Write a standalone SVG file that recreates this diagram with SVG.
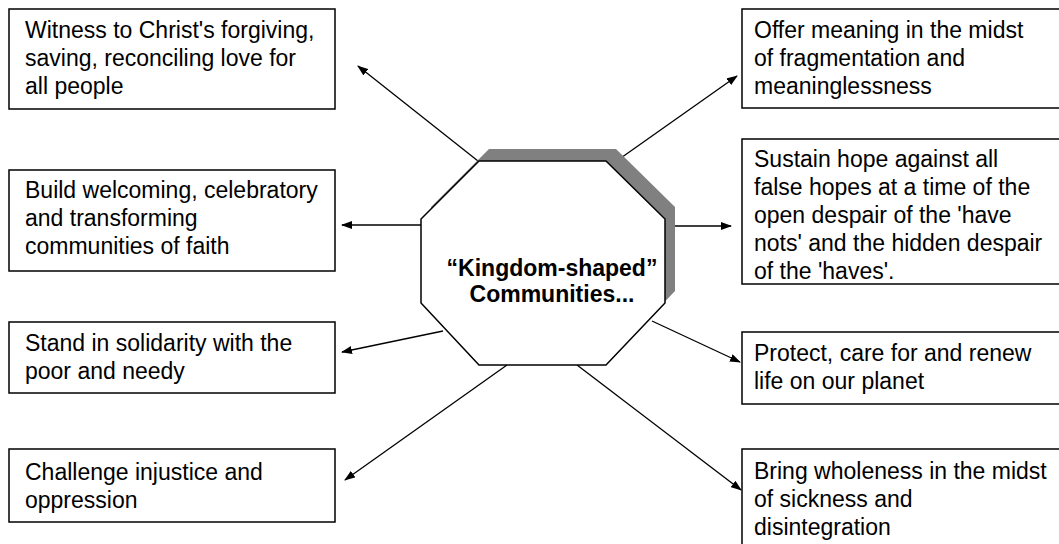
<svg xmlns="http://www.w3.org/2000/svg" width="1059" height="544" viewBox="0 0 1059 544">
<style>
.box{fill:#fff;stroke:#000;stroke-width:1.5}
.t{font-family:"Liberation Sans",Arial,sans-serif;font-size:23px;fill:#000}
.c{font-family:"Liberation Sans",Arial,sans-serif;font-size:23px;font-weight:bold;fill:#000;text-anchor:middle}
.ln{fill:none;stroke:#000;stroke-width:1.3;marker-end:url(#ah)}
</style>
<defs>
<marker id="ah" markerUnits="userSpaceOnUse" markerWidth="11" markerHeight="8" refX="10" refY="4" orient="auto">
<path d="M0,0 L11,4 L0,8 Z" fill="#000"/>
</marker>
</defs>
<rect width="1059" height="544" fill="#fff"/>
<g id="connectors">
<line class="ln" x1="478" y1="161" x2="358" y2="66"/>
<line class="ln" x1="421" y1="225" x2="342" y2="225"/>
<line class="ln" x1="443" y1="331" x2="342" y2="352"/>
<line class="ln" x1="507" y1="365" x2="345" y2="480"/>
<line class="ln" x1="618" y1="160" x2="737" y2="76"/>
<line class="ln" x1="675" y1="226" x2="731" y2="226"/>
<line class="ln" x1="652" y1="321" x2="740" y2="362"/>
<line class="ln" x1="577" y1="365" x2="741" y2="490"/>
</g>
<g id="center">
<polygon points="479,161 606,161 665,219 665,303 606,365 479,365 421,303 421,219" transform="translate(10,-12)" fill="#808080"/>
<polygon points="479,161 606,161 665,219 665,303 606,365 479,365 421,303 421,219" fill="#fff" stroke="#000" stroke-width="1.5"/>
<text class="c" x="552" y="276">“Kingdom-shaped”</text>
<text class="c" x="552" y="302">Communities...</text>
</g>
<g id="witness">
<rect class="box" x="9" y="9" width="326" height="100"/>
<text class="t" x="25" y="38">Witness to Christ's forgiving,</text>
<text class="t" x="25" y="66">saving, reconciling love for</text>
<text class="t" x="25" y="94">all people</text>
</g>
<g id="build">
<rect class="box" x="9" y="170" width="326" height="101"/>
<text class="t" x="25" y="198">Build welcoming, celebratory</text>
<text class="t" x="25" y="226">and transforming</text>
<text class="t" x="25" y="254">communities of faith</text>
</g>
<g id="stand">
<rect class="box" x="9" y="322" width="326" height="71"/>
<text class="t" x="25" y="351">Stand in solidarity with the</text>
<text class="t" x="25" y="379">poor and needy</text>
</g>
<g id="challenge">
<rect class="box" x="9" y="449" width="326" height="73"/>
<text class="t" x="25" y="480">Challenge injustice and</text>
<text class="t" x="25" y="508">oppression</text>
</g>
<g id="offer">
<rect class="box" x="742" y="9" width="330" height="99"/>
<text class="t" x="754" y="38">Offer meaning in the midst</text>
<text class="t" x="754" y="66">of fragmentation and</text>
<text class="t" x="754" y="94">meaninglessness</text>
</g>
<g id="sustain">
<rect class="box" x="742" y="139" width="330" height="145"/>
<text class="t" x="754" y="167">Sustain hope against all</text>
<text class="t" x="754" y="195">false hopes at a time of the</text>
<text class="t" x="754" y="223">open despair of the 'have</text>
<text class="t" x="754" y="251">nots' and the hidden despair</text>
<text class="t" x="754" y="279">of the 'haves'.</text>
</g>
<g id="protect">
<rect class="box" x="742" y="332" width="330" height="72"/>
<text class="t" x="754" y="361">Protect, care for and renew</text>
<text class="t" x="754" y="389">life on our planet</text>
</g>
<g id="bring">
<rect class="box" x="742" y="449" width="330" height="110"/>
<text class="t" x="754" y="479">Bring wholeness in the midst</text>
<text class="t" x="754" y="507">of sickness and</text>
<text class="t" x="754" y="535">disintegration</text>
</g>
</svg>
